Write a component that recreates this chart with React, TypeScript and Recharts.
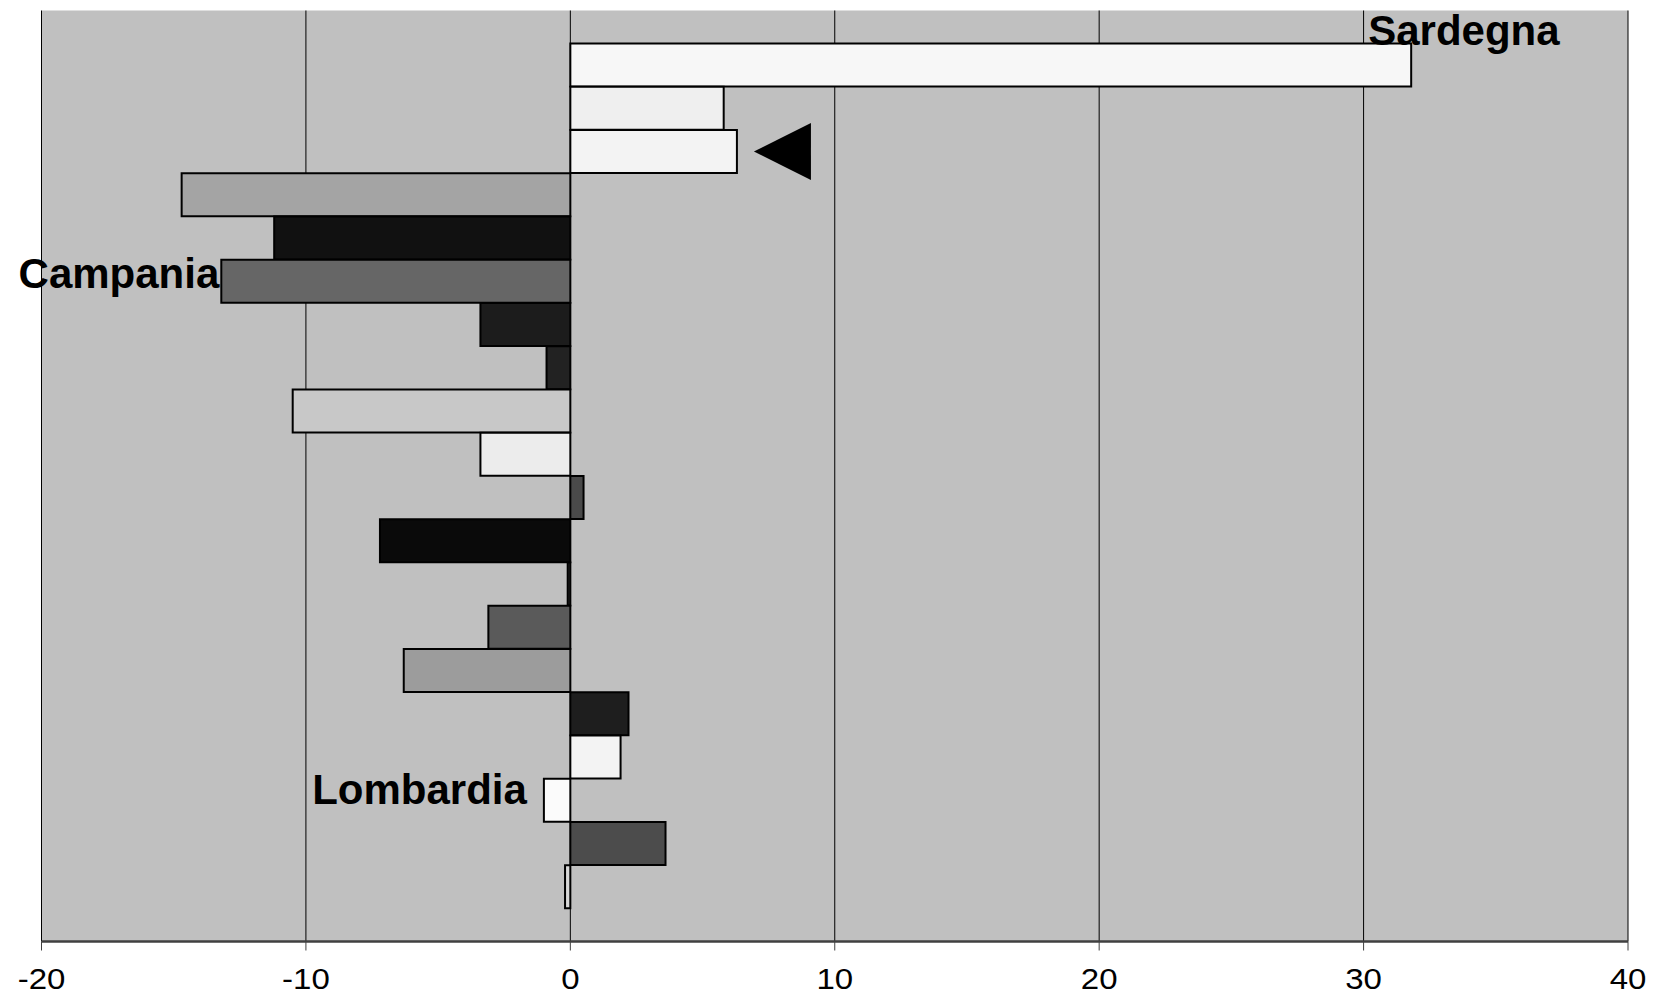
import React from "react";
import {
  BarChart,
  Bar,
  Cell,
  XAxis,
  YAxis,
  CartesianGrid,
  LabelList,
} from "recharts";

// one bar per region, top to bottom; only three are named on the chart
const regions = [
  "Sardegna", "Regione 2", "Regione 3", "Regione 4", "Regione 5",
  "Campania", "Regione 7", "Regione 8", "Regione 9", "Regione 10",
  "Regione 11", "Regione 12", "Regione 13", "Regione 14", "Regione 15",
  "Regione 16", "Regione 17", "Lombardia", "Regione 19", "Regione 20",
];
const change = [
  31.8, 5.8, 6.3, -14.7, -11.2, -13.2, -3.4, -0.9, -10.5, -3.4,
  0.5, -7.2, -0.1, -3.1, -6.3, 2.2, 1.9, -1.0, 3.6, -0.2,
];
const shades = [
  "#f7f7f7", "#efefef", "#f3f3f3", "#a4a4a4", "#111111",
  "#666666", "#1c1c1c", "#222222", "#c8c8c8", "#ececec",
  "#4a4a4a", "#0a0a0a", "#333333", "#5a5a5a", "#9c9c9c",
  "#1e1e1e", "#f3f3f3", "#fbfbfb", "#4c4c4c", "#d8d8d8",
];
const named = ["Sardegna", "Campania", "Lombardia"];
const arrowAt = "Regione 3";
const xTicks = [-20, -10, 0, 10, 20, 30, 40];

const data = regions.map((name, i) => ({ name, value: change[i] }));

const FONT = "'Liberation Sans', Arial, Helvetica, sans-serif";

// tick labels in the original are a little wider than plain Arial
function StretchedTick(props: any) {
  const { x, y, payload } = props;
  return (
    <text
      transform={`translate(${x},${y + 16.5}) scale(1.1,1)`}
      textAnchor="middle"
      style={{ fontSize: 30, fontFamily: FONT, fill: "#000" }}
    >
      {payload.value}
    </text>
  );
}

function RegionLabel(props: any) {
  const vb = props.viewBox ?? {};
  const x = props.x ?? vb.x;
  const y = props.y ?? vb.y;
  const w = props.width ?? vb.width;
  const h = props.height ?? vb.height;
  const name = props.value;
  if (x == null || y == null) return null;
  const left = Math.min(x, x + w);
  const right = Math.max(x, x + w);
  const top = Math.min(y, y + h);
  const bh = Math.abs(h);

  if (name === arrowAt) {
    const cy = top + bh / 2;
    return (
      <polygon
        points={`${right + 17},${cy} ${right + 74},${cy - 28.5} ${right + 74},${cy + 28.5}`}
        fill="#000"
      />
    );
  }
  if (!named.includes(name)) return null;

  const style = { fontSize: 42, fontWeight: 700, fontFamily: FONT, fill: "#000" };
  if (name === "Sardegna") {
    return (
      <text x={right - 43} y={top + 1.7} textAnchor="start" style={style}>
        {name}
      </text>
    );
  }
  if (name === "Campania") {
    return (
      <text x={left - 2} y={top + 28.6} textAnchor="end" style={style}>
        {name}
      </text>
    );
  }
  return (
    <text x={left - 17} y={top + 25} textAnchor="end" style={style}>
      {name}
    </text>
  );
}

export default function App() {
  return (
    <div style={{ position: "absolute", left: 0, top: 0, background: "#fff" }}>
      <BarChart
        layout="vertical"
        width={1654}
        height={995}
        data={data}
        margin={{ top: 10.5, right: 26, left: 41.5, bottom: 0 }}
        barCategoryGap={0}
      >
        <CartesianGrid horizontal={false} stroke="#000" strokeWidth={1} fill="#c0c0c0" fillOpacity={1} />
        <XAxis
          type="number"
          domain={[-20, 40]}
          ticks={xTicks}
          interval={0}
          height={53.5}
          tickSize={9}
          tickMargin={21.5}
          axisLine={{ stroke: "#404040", strokeWidth: 2.5 }}
          tickLine={{ stroke: "#404040", strokeWidth: 1 }}
          tick={<StretchedTick />}
        />
        <XAxis
          xAxisId="top"
          orientation="top"
          type="number"
          domain={[-20, 40]}
          height={0}
          tick={false}
          tickLine={false}
          axisLine={{ stroke: "#808080", strokeWidth: 3 }}
        />
        <YAxis
          type="category"
          dataKey="name"
          width={0}
          padding={{ top: 33, bottom: 33 }}
          tick={false}
          tickLine={false}
          axisLine={{ stroke: "#808080", strokeWidth: 3 }}
        />
        <YAxis
          yAxisId="right"
          orientation="right"
          type="category"
          dataKey="name"
          width={0}
          tick={false}
          tickLine={false}
          axisLine={{ stroke: "#808080", strokeWidth: 3 }}
        />
        <Bar dataKey="value" stroke="#000" strokeWidth={2} isAnimationActive={false}>
          {data.map((d, i) => (
            <Cell key={d.name} fill={shades[i]} />
          ))}
          <LabelList dataKey="name" content={RegionLabel} />
        </Bar>
      </BarChart>
    </div>
  );
}
